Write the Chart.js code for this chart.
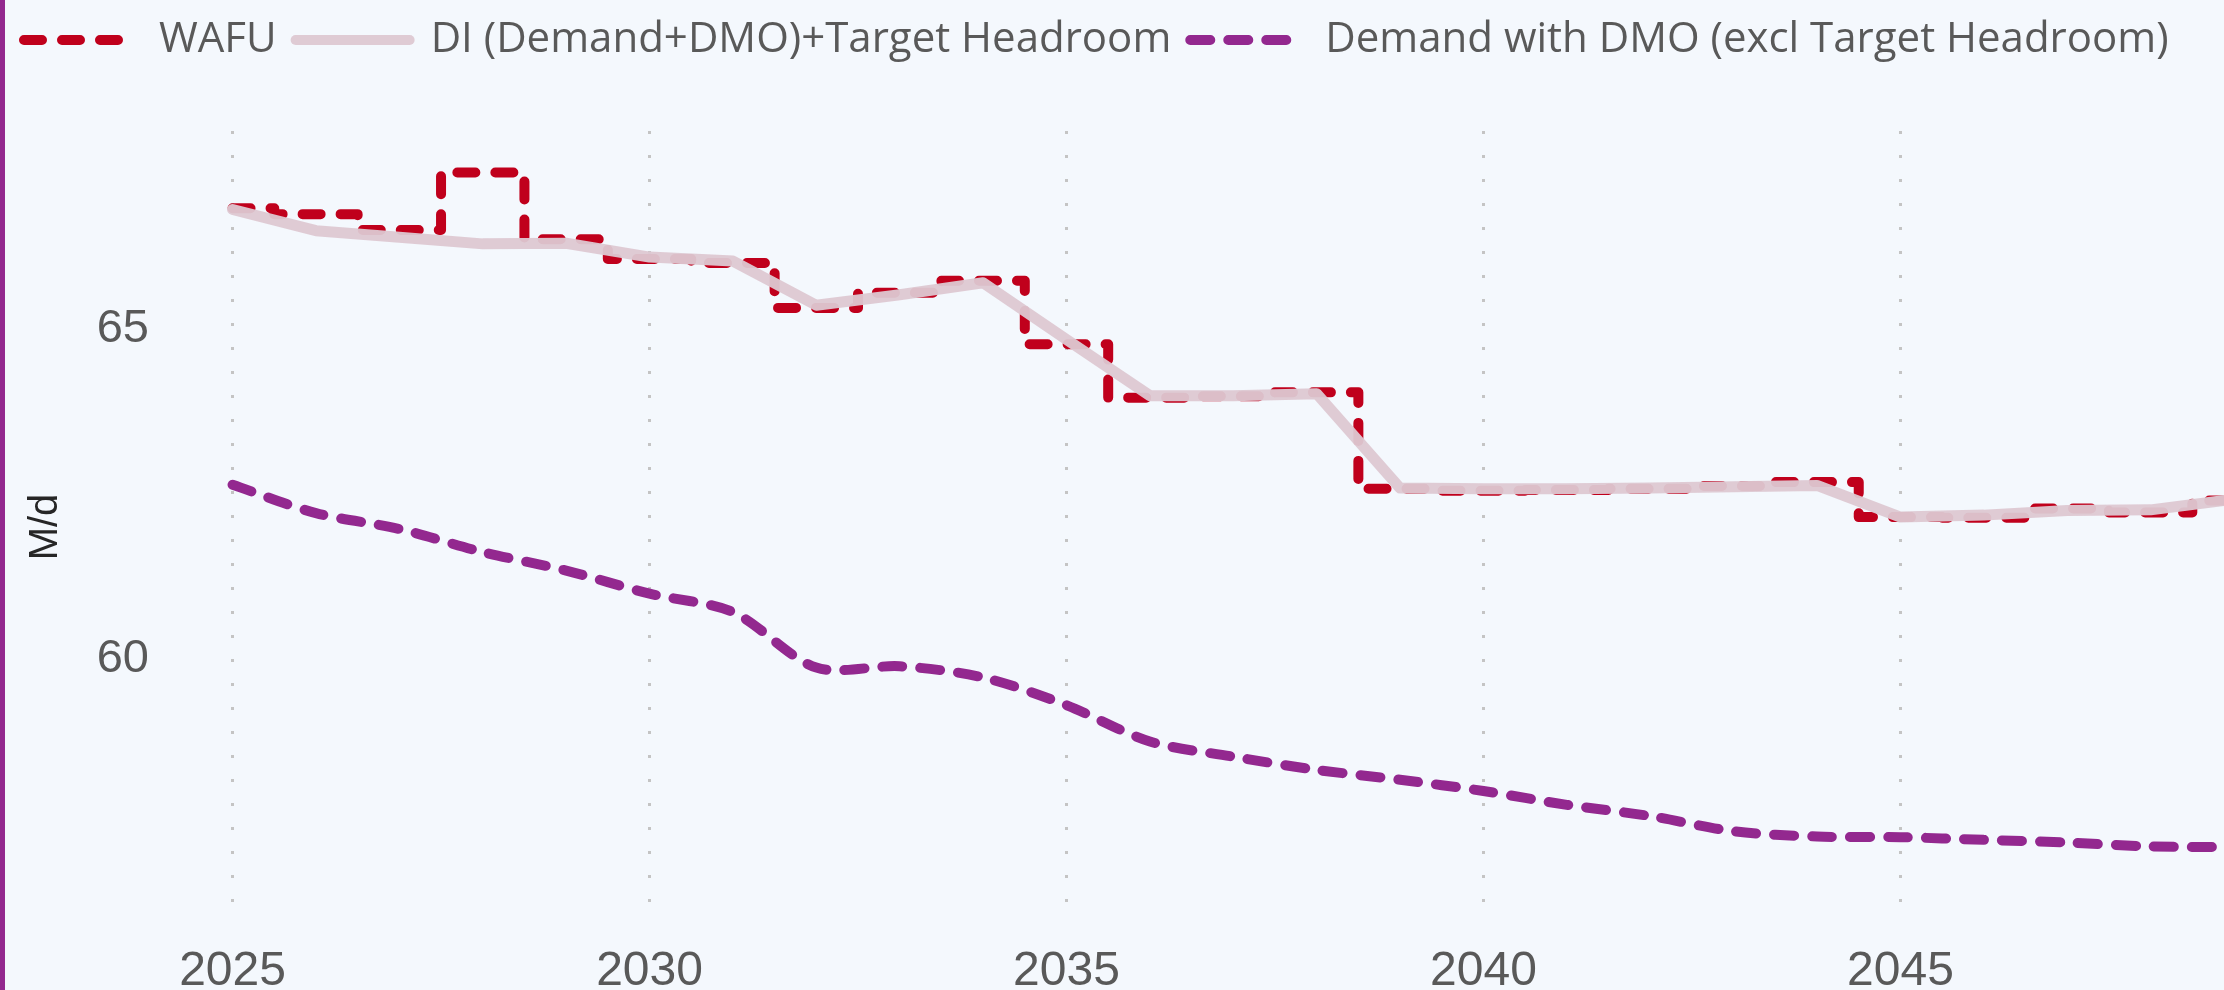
<!DOCTYPE html>
<html>
<head>
<meta charset="utf-8">
<title>WAFU vs demand</title>
<script src="https://cdn.jsdelivr.net/npm/chart.js@4.4.1/dist/chart.umd.min.js"></script>
<style>
  html, body { margin: 0; padding: 0; background: #f4f8fd; overflow: hidden; }
  #wrap {
    position: absolute; left: 0; top: 0;
    width: 2224px; height: 990px;
    border-left: 5px solid #93288f;
    box-sizing: border-box;
    background: #f4f8fd;
  }
  canvas { display: block; }
</style>
</head>
<body>
<div id="wrap"><canvas id="demandChart" width="2219" height="990"></canvas></div>
<script>
// values (M/d), one per year
const years = [2025, 2026, 2027, 2028, 2029, 2030, 2031, 2032, 2033, 2034, 2035, 2036,
               2037, 2038, 2039, 2040, 2041, 2042, 2043, 2044, 2045, 2046, 2047, 2048, 2049];
const wafu = [66.83, 66.74, 66.50, 67.37, 66.36, 66.06, 66.00, 65.32, 65.55, 65.73, 64.77, 63.96,
              63.98, 64.04, 62.58, 62.55, 62.56, 62.58, 62.62, 62.68, 62.15, 62.14, 62.28, 62.22, 62.40];
const diTarget = [66.81, 66.49, 66.39, 66.29, 66.30, 66.09, 66.03, 65.36, 65.52, 65.70, 64.84, 63.99,
                  63.99, 64.02, 62.59, 62.58, 62.58, 62.59, 62.61, 62.63, 62.15, 62.18, 62.25, 62.26, 62.42];
const demandDmo = [62.64, 62.21, 61.97, 61.62, 61.34, 60.99, 60.71, 59.87, 59.89, 59.72, 59.30, 58.75,
                   58.52, 58.32, 58.17, 58.00, 57.79, 57.62, 57.39, 57.31, 57.30, 57.26, 57.22, 57.16, 57.15];
const xTicks = [2025, 2030, 2035, 2040, 2045];
const yTicks = [60, 65];

function xyzip(arr1, arr2) {
    return arr1.map((value, index) => ({"x": value, "y": arr2[index]}));
}

// push the plot area down below the legend
const legendGap = {
    id: 'legendGap',
    beforeInit(chart) {
        if (!chart.legend) return;
        const fitValue = chart.legend.fit;
        chart.legend.fit = function fit() {
            fitValue.bind(chart.legend)();
            this.height += 60;
        };
    }
};

new Chart("demandChart", {
    type: "line",
    data: {
        datasets: [{
            label: "WAFU",
            data: xyzip(years, wafu),
            borderColor: "rgb(192,0,28)",
            borderWidth: 10,
            borderDash: [18, 20],
            borderCapStyle: "round",
            borderJoinStyle: "round",
            stepped: "middle",
            pointRadius: 0,
            fill: false,
            order: 1
        },
        {
            label: "DI (Demand+DMO)+Target Headroom",
            data: xyzip(years, diTarget),
            borderColor: "rgba(221,200,210,0.95)",
            borderWidth: 11,
            borderCapStyle: "round",
            borderJoinStyle: "round",
            pointRadius: 0,
            fill: false,
            order: 0
        },
        {
            label: "Demand with DMO (excl Target Headroom)",
            data: xyzip(years, demandDmo),
            borderColor: "rgb(147,40,143)",
            borderWidth: 10,
            borderDash: [20, 18],
            borderCapStyle: "round",
            borderJoinStyle: "round",
            tension: 0.3,
            pointRadius: 0,
            fill: false,
            order: 2
        }]
    },
    options: {
        responsive: false,
        animation: false,
        layout: { padding: 0 },
        plugins: {
            tooltip: { enabled: false },
            legend: {
                position: "top",
                align: "start",
                labels: {
                    usePointStyle: true,
                    pointStyle: "line",
                    pointStyleWidth: 114,
                    padding: 19,
                    color: "#595959",
                    font: { family: "'Open Sans', sans-serif", size: 42 },
                    sort: (a, b) => a.datasetIndex - b.datasetIndex,
                    generateLabels: (chart) => {
                        const items = Chart.defaults.plugins.legend.labels.generateLabels(chart);
                        items.forEach(item => {
                            const ds = chart.data.datasets[item.datasetIndex];
                            item.lineDash = ds.borderDash || [];
                            item.lineCap = "round";
                            item.lineWidth = 10;
                            item.strokeStyle = ds.borderColor;
                        });
                        return items;
                    }
                }
            }
        },
        scales: {
            x: {
                type: "linear",
                min: 2024.13,
                max: 2048.88,
                afterBuildTicks: (scale) => { scale.ticks = xTicks.map(v => ({value: v})); },
                afterFit: (scale) => { scale.height = 67; },
                grid: {
                    display: true,
                    drawTicks: false,
                    color: "#c4c4c4",
                    lineWidth: 3
                },
                border: { display: false, dash: [3, 21] },
                ticks: {
                    padding: 25,
                    color: "#595959",
                    font: { family: "'Liberation Sans', Arial, sans-serif", size: 48, lineHeight: 1 },
                    callback: (v) => String(v)
                }
            },
            y: {
                min: 56,
                max: 68,
                afterBuildTicks: (scale) => { scale.ticks = yTicks.map(v => ({value: v})); },
                afterFit: (scale) => { scale.width = 155; },
                grid: { display: false, drawTicks: false },
                border: { display: false },
                ticks: {
                    padding: 11,
                    color: "#595959",
                    font: { family: "'Liberation Sans', Arial, sans-serif", size: 47 }
                },
                title: {
                    display: true,
                    text: "M/d",
                    color: "#262626",
                    padding: { top: 17, bottom: 0 },
                    font: { family: "'Liberation Sans', Arial, sans-serif", size: 40 }
                }
            }
        }
    },
    plugins: [legendGap]
});
</script>
</body>
</html>
